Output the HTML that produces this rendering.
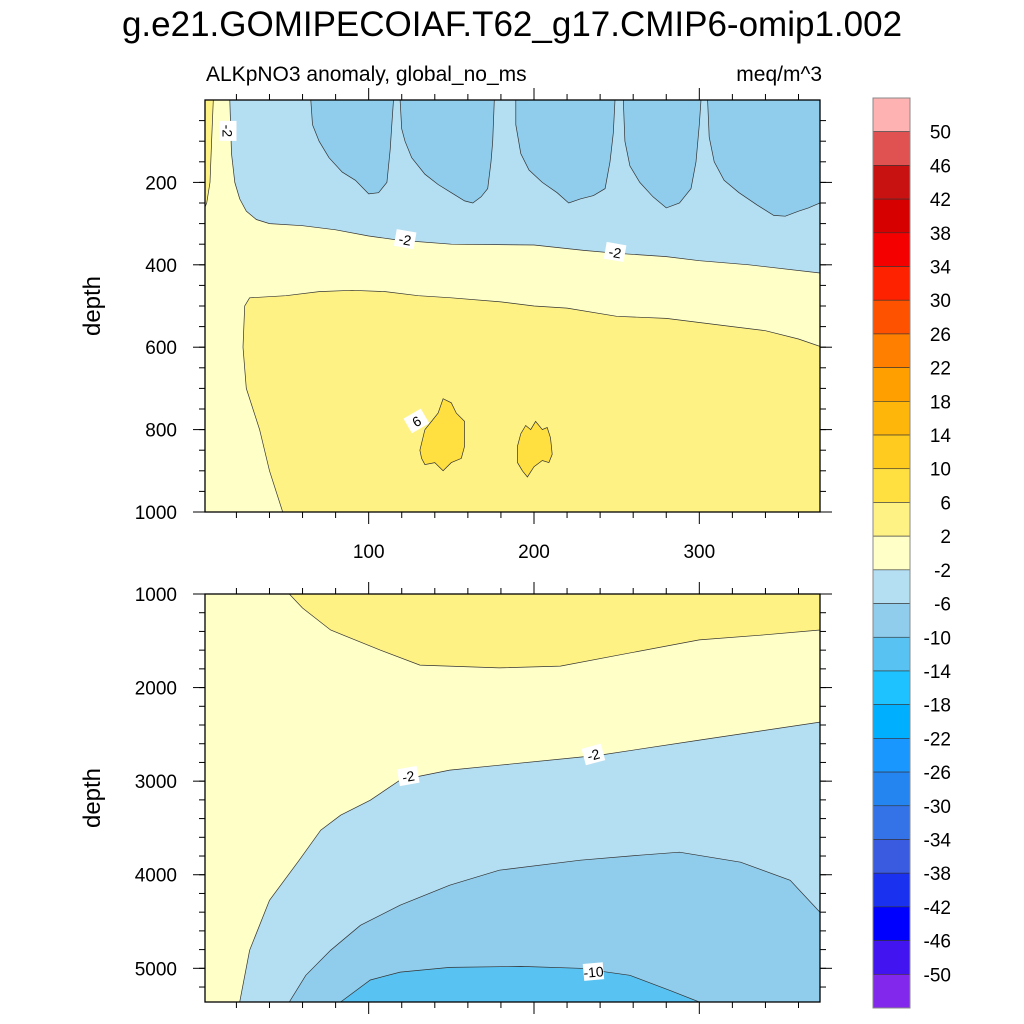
<!DOCTYPE html>
<html><head><meta charset="utf-8"><style>
body{margin:0;background:#fff}
svg{display:block;font-family:"Liberation Sans",sans-serif}
</style></head><body>
<svg id="chart" width="1024" height="1024" viewBox="0 0 1024 1024" xmlns="http://www.w3.org/2000/svg">
<text x="512" y="36" text-anchor="middle" font-size="35">g.e21.GOMIPECOIAF.T62_g17.CMIP6-omip1.002</text>
<text x="206" y="81" font-size="21">ALKpNO3 anomaly, global_no_ms</text>
<text x="822" y="81" font-size="21" text-anchor="end">meq/m^3</text>
<g id="top"></g>
<g id="bot"></g>
<g id="cbar"></g>
</svg>
<script>
// ---- data ----
const monthDomain=[1,373];
const topDepthDomain=[0,1000];
const botDepthDomain=[1000,5360];
const xTickValues=[100,200,300];
const topYTicks=[200,400,600,800,1000];
const botYTicks=[1000,2000,3000,4000,5000];
const cbarLabels=[50,46,42,38,34,30,26,22,18,14,10,6,2,-2,-6,-10,-14,-18,-22,-26,-30,-34,-38,-42,-46,-50];
const cbarColors=["#ffb2b2","#e05252","#c81212","#d70000","#f50000","#ff2200","#ff5200","#ff8000","#ffa000","#ffb60a","#ffcb1e","#ffe040","#fff285","#ffffc8","#b4def2","#90cdec","#58c3f2","#1ec2ff","#00b0ff","#1a96ff","#2484f0","#3472e8","#3a5ae0","#1a32f0","#0000ff","#4214f0","#8228ec"];
// top panel contours [month, depth]
const topM2Curve=[[16,0],[17,130],[19,200],[22,240],[26,270],[32,290],[40,300],[60,305],[80,315],[100,330],[118,340],[150,350],[200,352],[230,365],[250,372],[280,380],[300,390],[330,400],[373,420]];
const topLobes=[
[[65,0],[66,60],[70,100],[76,140],[84,175],[92,195],[100,228],[106,225],[111,200],[113,120],[114,60],[115,0]],
[[119,0],[120,70],[122,100],[126,140],[134,180],[142,205],[150,225],[158,245],[163,250],[168,235],[172,215],[174,150],[175,100],[176,0]],
[[189,0],[189,60],[192,130],[197,170],[205,200],[214,225],[221,250],[228,240],[236,232],[243,215],[246,150],[248,80],[249,0]],
[[254,0],[255,100],[258,160],[264,200],[272,235],[280,262],[288,250],[295,215],[298,150],[300,60],[301,0]],
[[305,0],[306,90],[309,150],[315,195],[324,225],[335,255],[345,280],[352,282],[360,270],[366,262],[370,255],[373,250],[373,0]]];
const topStrip2=[[1,0],[6,0],[5,100],[4,200],[2,250],[1,260]];
const topP2Curve=[[48,1000],[40,900],[34,800],[26,700],[24,600],[25,500],[28,480],[50,475],[70,465],[90,462],[110,465],[130,475],[150,480],[180,490],[200,500],[220,505],[250,525],[280,530],[300,540],[320,550],[340,560],[360,580],[373,598]];
const topBlobs=[
[[131,850],[134,800],[138,780],[142,760],[145,725],[150,735],[153,760],[158,780],[158,840],[156,870],[150,880],[145,900],[140,880],[134,885],[132,870]],
[[190,840],[192,810],[195,790],[198,800],[201,780],[205,800],[208,795],[210,820],[211,860],[209,880],[205,875],[200,890],[196,915],[193,900],[190,880]]];
// bottom panel contours
const botP2Curve=[[52,1000],[60,1150],[77,1385],[107,1600],[131,1760],[179,1790],[216,1770],[252,1650],[300,1490],[337,1440],[373,1385]];
const botM2Curve=[[22,5360],[28,4807],[40,4273],[58,3845],[71,3524],[83,3364],[101,3203],[119,2989],[149,2882],[179,2829],[240,2722],[300,2561],[373,2369]];
const botM6Curve=[[52,5360],[62,5075],[77,4807],[95,4540],[119,4326],[149,4112],[179,3952],[228,3845],[264,3791],[288,3759],[325,3866],[355,4059],[373,4401]];
const botM10Curve=[[83,5360],[101,5125],[119,5040],[149,4990],[192,4980],[228,5000],[258,5075],[282,5235],[300,5360]];

// ---- layout ----
const L=205,R=820;
const TT=100,TB=512,BT=594,BB=1002;
const NS="http://www.w3.org/2000/svg";
const xS=m=>L+(m-monthDomain[0])/(monthDomain[1]-monthDomain[0])*(R-L);
const yT=d=>TT+(d-topDepthDomain[0])/(topDepthDomain[1]-topDepthDomain[0])*(TB-TT);
const yB=d=>BT+(d-botDepthDomain[0])/(botDepthDomain[1]-botDepthDomain[0])*(BB-BT);
function mk(tag,attrs,parent){const e=document.createElementNS(NS,tag);for(const k in attrs)e.setAttribute(k,attrs[k]);parent.appendChild(e);return e;}
function pts(arr,ys){return arr.map(p=>xS(p[0]).toFixed(1)+","+ys(p[1]).toFixed(1)).join(" ");}
const C={ly:"#ffffc8",y2:"#fff285",y6:"#ffe040",b2:"#b4def2",b6:"#90cdec",b10:"#58c3f2"};
function poly(g,arr,ys,fill,name){const e=mk("polygon",{points:pts(arr,ys),fill:fill,stroke:"#333","stroke-width":"0.7"},g);

return e;}
function label(g,x,y,t,rot,name){const gg=mk("g",{transform:`translate(${x},${y}) rotate(${rot})`},g);


mk("rect",{x:-10,y:-9,width:20,height:17,fill:"#fff"},gg);
const t1=mk("text",{x:0,y:5,"text-anchor":"middle","font-size":"14"},gg);t1.textContent=t;}

// top panel
const gt=document.getElementById('top');
const cT=mk("clipPath",{id:"clipT"},gt);mk("rect",{x:L,y:TT,width:R-L,height:TB-TT},cT);
const ft=mk("g",{"clip-path":"url(#clipT)"},gt);
mk("rect",{x:L,y:TT,width:R-L,height:TB-TT,fill:C.ly},ft);
poly(ft,topM2Curve.concat([[373,0]]),yT,C.b2,"region-minus2-to-minus6");
topLobes.forEach((lb,i)=>poly(ft,lb,yT,C.b6,"region-minus6-lobe-"+(i+1)));
poly(ft,topStrip2,yT,C.y2,"region-2-to-6-strip");
poly(ft,topP2Curve.concat([[373,1000]]),yT,C.y2,"region-2-to-6");
topBlobs.forEach((b,i)=>poly(ft,b,yT,C.y6,"region-6-to-10-blob-"+(i+1)));
label(gt,xS(14)+1,yT(75),"-2",90,"contour-label");
label(gt,xS(122),yT(339),"-2",10,"contour-label");
label(gt,xS(249),yT(370),"-2",10,"contour-label");
label(gt,xS(129),yT(780),"6",-30,"contour-label");

// bottom panel
const gb=document.getElementById('bot');
const cB=mk("clipPath",{id:"clipB"},gb);mk("rect",{x:L,y:BT,width:R-L,height:BB-BT},cB);
const fb=mk("g",{"clip-path":"url(#clipB)"},gb);
mk("rect",{x:L,y:BT,width:R-L,height:BB-BT,fill:C.ly},fb);
poly(fb,botP2Curve.concat([[373,1000]]),yB,C.y2,"region-2-to-6");
poly(fb,botM2Curve.concat([[373,5360]]),yB,C.b2,"region-minus2-to-minus6");
poly(fb,botM6Curve.concat([[373,5360]]),yB,C.b6,"region-minus6-to-minus10");
poly(fb,botM10Curve,yB,C.b10,"region-minus10-to-minus14");
label(gb,xS(124),yB(2950),"-2",-10,"contour-label");
label(gb,xS(236),yB(2720),"-2",-15,"contour-label");
label(gb,xS(236),yB(5040),"-10",-5,"contour-label");

// axes
function axes(g,top,bot,ys,yTicks,yMinor,xLabels,name){
 const fr=mk("rect",{x:L,y:top,width:R-L,height:bot-top,fill:"none",stroke:"#000","stroke-width":"1.3"},g);
 
 
 for(let m=20;m<=372;m+=20){const mj=m%100===0,len=mj?12:6,x=xS(m);
  mk("line",{x1:x,x2:x,y1:top,y2:top-len,stroke:"#000","stroke-width":"1"},g);
  mk("line",{x1:x,x2:x,y1:bot,y2:bot+len,stroke:"#000","stroke-width":"1"},g);}
 if(xLabels)xTickValues.forEach(v=>{const t=mk("text",{x:xS(v),y:bot+46,"text-anchor":"middle","font-size":"19"},g);
  
  t.textContent=v;});
 yMinor.forEach(d=>{const y=ys(d);mk("line",{x1:L,x2:L-6,y1:y,y2:y,stroke:"#000"},g);mk("line",{x1:R,x2:R+6,y1:y,y2:y,stroke:"#000"},g);});
 yTicks.forEach(d=>{const y=ys(d);mk("line",{x1:L,x2:L-12,y1:y,y2:y,stroke:"#000"},g);mk("line",{x1:R,x2:R+12,y1:y,y2:y,stroke:"#000"},g);
  const t=mk("text",{x:L-28,y:y+7,"text-anchor":"end","font-size":"19"},g);
  
  t.textContent=d;});
 const yt=mk("text",{x:0,y:0,transform:`translate(100,${(top+bot)/2}) rotate(-90)`,"text-anchor":"middle","font-size":"24"},g);
 
 yt.textContent="depth";
}
const tm=[];for(let d=50;d<1000;d+=50)tm.push(d);
axes(gt,TT,TB,yT,topYTicks,tm,true,"top-panel");
const bm=[];for(let d=1200;d<5360;d+=200)bm.push(d);
axes(gb,BT,BB,yB,botYTicks,bm,false,"bottom-panel");

// colorbar
const gc=document.getElementById('cbar');
const cx=873,cw=37,ct=98,cb=1008,bh=(cb-ct)/cbarColors.length;
cbarColors.forEach((c,i)=>{const r=mk("rect",{x:cx,y:ct+i*bh,width:cw,height:bh,fill:c,stroke:"#333","stroke-width":"0.6"},gc);
 
 });
mk("rect",{x:cx,y:ct,width:cw,height:cb-ct,fill:"none",stroke:"#888","stroke-width":"1"},gc);
cbarLabels.forEach((v,i)=>{const t=mk("text",{x:951,y:ct+(i+1)*bh+7,"text-anchor":"end","font-size":"19"},gc);
 
 t.textContent=v;});
</script>
</body></html>
